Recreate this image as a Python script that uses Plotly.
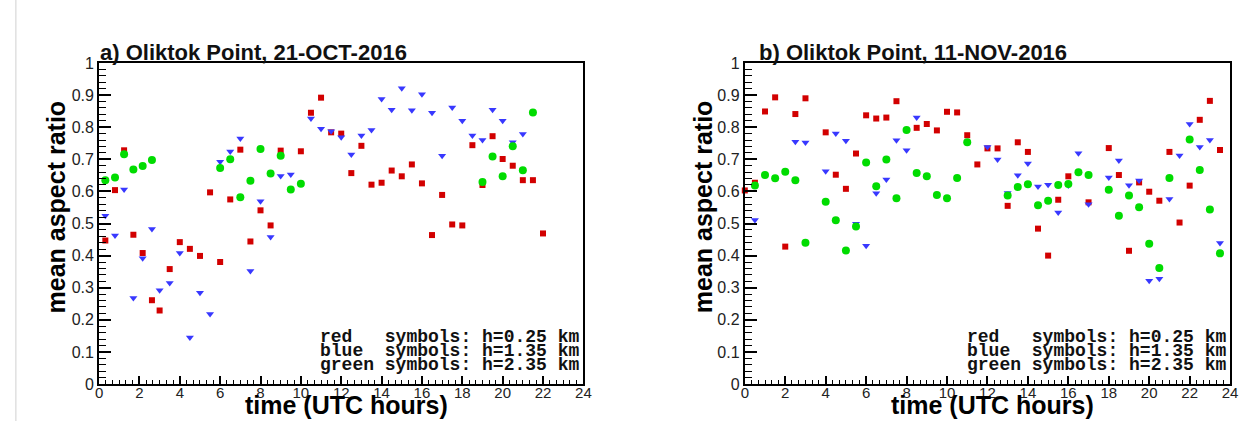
import plotly.graph_objects as go

# ---------------- data: panel a) 21-OCT-2016 ----------------
a_red_t = [0.31, 0.79, 1.24, 1.70, 2.16, 2.62, 3.0, 3.5, 4.0, 4.5, 5.0, 5.5, 6.0, 6.5, 7.0, 7.5,
           8.0, 8.5, 9.0, 10.0, 10.5, 11.0, 11.5, 12.0, 12.5, 13.0, 13.5, 14.0, 14.5, 15.0, 15.5,
           16.0, 16.5, 17.0, 17.5, 18.0, 18.5, 19.0, 19.5, 20.0, 20.5, 21.0, 21.5, 22.0]
a_red = [0.447, 0.604, 0.728, 0.465, 0.408, 0.261, 0.229, 0.358, 0.442, 0.421, 0.399, 0.597,
         0.380, 0.575, 0.730, 0.444, 0.541, 0.494, 0.727, 0.725, 0.845, 0.892, 0.784, 0.780,
         0.657, 0.742, 0.621, 0.627, 0.665, 0.647, 0.684, 0.625, 0.464, 0.589, 0.497, 0.494,
         0.744, 0.620, 0.772, 0.701, 0.680, 0.635, 0.635, 0.469]

a_blue_t = [0.31, 0.79, 1.24, 1.70, 2.16, 2.62, 3.0, 3.5, 4.0, 4.5, 5.0, 5.5, 6.0, 6.5, 7.0, 7.5,
            8.0, 8.5, 9.0, 9.5, 10.5, 11.0, 11.5, 12.0, 12.5, 13.0, 13.5, 14.0, 14.5, 15.0, 15.5,
            16.0, 16.5, 17.0, 17.5, 18.0, 18.5, 19.0, 19.5, 20.0, 20.5, 21.0]
a_blue = [0.524, 0.463, 0.606, 0.268, 0.392, 0.483, 0.292, 0.315, 0.408, 0.145, 0.284, 0.218,
          0.692, 0.724, 0.765, 0.352, 0.569, 0.458, 0.648, 0.653, 0.827, 0.795, 0.787, 0.769,
          0.715, 0.774, 0.791, 0.888, 0.854, 0.921, 0.853, 0.903, 0.845, 0.711, 0.861, 0.820,
          0.774, 0.760, 0.854, 0.820, 0.753, 0.779]

a_green_t = [0.31, 0.79, 1.24, 1.70, 2.16, 2.62, 6.0, 6.5, 7.0, 7.5, 8.0, 8.5, 9.0, 9.5, 10.0,
             19.0, 19.5, 20.0, 20.5, 21.0, 21.5]
a_green = [0.635, 0.643, 0.716, 0.668, 0.679, 0.698, 0.673, 0.700, 0.582, 0.633, 0.732, 0.656,
           0.711, 0.606, 0.624, 0.629, 0.709, 0.647, 0.741, 0.666, 0.846]

# ---------------- data: panel b) 11-NOV-2016 ----------------
b_red_t = [0.0, 0.5, 1.0, 1.5, 2.0, 2.5, 3.0, 4.0, 4.5, 5.0, 5.5, 6.0, 6.5, 7.0, 7.5, 8.5, 9.0,
           9.5, 10.0, 10.5, 11.0, 11.5, 12.0, 12.5, 13.0, 13.5, 14.0, 14.5, 15.0, 15.5, 16.0,
           17.0, 18.0, 18.5, 19.0, 19.5, 20.0, 20.5, 21.0, 21.5, 22.0, 22.5, 23.0, 23.5]
b_red = [0.603, 0.627, 0.849, 0.893, 0.428, 0.841, 0.890, 0.784, 0.652, 0.608, 0.718, 0.837,
         0.827, 0.830, 0.881, 0.798, 0.810, 0.790, 0.848, 0.846, 0.775, 0.684, 0.734, 0.734,
         0.555, 0.753, 0.723, 0.484, 0.400, 0.574, 0.647, 0.566, 0.735, 0.651, 0.415, 0.628,
         0.599, 0.571, 0.723, 0.503, 0.618, 0.823, 0.882, 0.729]

b_blue_t = [0.5, 2.5, 3.0, 4.0, 4.5, 5.0, 5.5, 6.0, 6.5, 7.0, 7.5, 8.0, 8.5, 12.0, 12.5, 13.0,
            13.5, 14.0, 14.5, 15.0, 15.5, 16.0, 16.5, 17.0, 18.0, 18.5, 19.0, 19.5, 20.0, 20.5,
            21.0, 21.5, 22.0, 22.5, 23.0, 23.5]
b_blue = [0.511, 0.755, 0.752, 0.663, 0.780, 0.758, 0.499, 0.431, 0.594, 0.637, 0.759, 0.728,
          0.830, 0.738, 0.699, 0.595, 0.650, 0.687, 0.615, 0.621, 0.534, 0.618, 0.719, 0.560,
          0.643, 0.696, 0.619, 0.634, 0.322, 0.328, 0.576, 0.712, 0.810, 0.738, 0.760, 0.439]

b_green_t = [0.5, 1.0, 1.5, 2.0, 2.5, 3.0, 4.0, 4.5, 5.0, 5.5, 6.0, 6.5, 7.0, 7.5, 8.0, 8.5, 9.0,
             9.5, 10.0, 10.5, 11.0, 13.0, 13.5, 14.0, 14.5, 15.0, 15.5, 16.0, 16.5, 17.0, 18.0,
             18.5, 19.0, 19.5, 20.0, 20.5, 21.0, 22.0, 22.5, 23.0, 23.5]
b_green = [0.618, 0.651, 0.641, 0.661, 0.635, 0.440, 0.568, 0.510, 0.416, 0.491, 0.690, 0.616,
           0.699, 0.579, 0.791, 0.657, 0.647, 0.589, 0.579, 0.642, 0.753, 0.587, 0.614, 0.622,
           0.557, 0.571, 0.620, 0.623, 0.660, 0.651, 0.605, 0.524, 0.587, 0.551, 0.437, 0.361,
           0.642, 0.762, 0.667, 0.544, 0.407]

titles = ["a) Oliktok Point, 21-OCT-2016", "b) Oliktok Point, 11-NOV-2016"]
x_title = "time (UTC hours)"
y_title = "mean aspect ratio"
legend_lines = ["red\u00a0\u00a0\u00a0symbols:\u00a0h=0.25\u00a0km",
                "blue\u00a0\u00a0symbols:\u00a0h=1.35\u00a0km",
                "green\u00a0symbols:\u00a0h=2.35\u00a0km"]

# ---------------- layout helpers ----------------
W, H = 1248, 421
MT, MB = 63, 37
PH = H - MT - MB


def fx(px):
    return px / W


def fy(py):
    return (H - MB - py) / PH


RED = "#d20000"
BLUE = "#3838ff"
GREEN = "#00dc00"
SANS = "Liberation Sans, Arial, sans-serif"
MONO = "Liberation Mono, Courier New, monospace"

fig = go.Figure()

panels = [
    ("x", "y", a_red_t, a_red, a_blue_t, a_blue, a_green_t, a_green),
    ("x2", "y2", b_red_t, b_red, b_blue_t, b_blue, b_green_t, b_green),
]
for xr, yr, rt, rv, bt, bv, gt, gv in panels:
    fig.add_trace(go.Scatter(x=rt, y=rv, xaxis=xr, yaxis=yr, mode="markers", cliponaxis=False,
                             marker=dict(symbol="square", size=6, color=RED, line=dict(width=0)),
                             showlegend=False))
    fig.add_trace(go.Scatter(x=bt, y=bv, xaxis=xr, yaxis=yr, mode="markers", cliponaxis=False,
                             marker=dict(symbol="triangle-down", size=7, color=BLUE, line=dict(width=0)),
                             showlegend=False))
    fig.add_trace(go.Scatter(x=gt, y=gv, xaxis=xr, yaxis=yr, mode="markers", cliponaxis=False,
                             marker=dict(symbol="circle", size=8, color=GREEN, line=dict(width=0)),
                             showlegend=False))

xcommon = dict(range=[0, 24], tick0=0, dtick=2, ticks="inside", ticklen=8, tickwidth=2,
               tickcolor="black", showline=True, linewidth=2, linecolor="black", mirror=True,
               showgrid=False, zeroline=False, ticklabelstandoff=-6,
               minor=dict(ticks="inside", ticklen=4, tickwidth=1, tickcolor="black",
                          tick0=0, dtick=1 / 3, showgrid=False),
               tickfont=dict(family=SANS, size=15, color="#222"))
ycommon = dict(range=[0, 1], tick0=0, dtick=0.1, ticks="inside", ticklen=12, tickwidth=2,
               tickcolor="black", showline=True, linewidth=2, linecolor="black", mirror=True,
               showgrid=False, zeroline=False,
               minor=dict(ticks="inside", ticklen=7, tickwidth=1, tickcolor="black",
                          tick0=0, dtick=0.02, showgrid=False),
               tickfont=dict(family=SANS, size=16, color="#222"))

plot_px = [(96, 585), (748, 1238)]

fig.update_layout(
    width=W, height=H,
    margin=dict(l=0, r=0, t=MT, b=MB, pad=0),
    paper_bgcolor="white", plot_bgcolor="white",
    xaxis=dict(domain=[fx(plot_px[0][0]), fx(plot_px[0][1])], anchor="y", **xcommon),
    yaxis=dict(domain=[0, 1], anchor="x", **ycommon),
    xaxis2=dict(domain=[fx(plot_px[1][0]), fx(plot_px[1][1])], anchor="y2", **xcommon),
    yaxis2=dict(domain=[0, 1], anchor="x2", **ycommon),
)

annotations = []
title_x = [95, 760]
ytitle_x = [53, 706]
for i, (x0, x1) in enumerate(plot_px):
    annotations.append(dict(text="<b>%s</b>" % titles[i], xref="paper", yref="paper",
                            x=fx(title_x[i]), y=fy(52), xanchor="left", yanchor="middle",
                            showarrow=False, font=dict(family=SANS, size=22, color="#111")))
    annotations.append(dict(text="<b>%s</b>" % x_title, xref="paper", yref="paper",
                            x=fx((x0 + x1) / 2 + 5), y=fy(H), xanchor="center", yanchor="bottom",
                            showarrow=False, font=dict(family=SANS, size=25, color="black")))
    annotations.append(dict(text="<b>%s</b>" % y_title, xref="paper", yref="paper",
                            x=fx(ytitle_x[i]), y=fy(207), xanchor="center", yanchor="middle",
                            textangle=-90, showarrow=False,
                            font=dict(family=SANS, size=25, color="black")))
    for j, line in enumerate(legend_lines):
        annotations.append(dict(text="<b>%s</b>" % line, xref="paper", yref="paper",
                                x=fx(x1 - 2), y=fy(337 + 14 * j), xanchor="right",
                                yanchor="middle", showarrow=False,
                                font=dict(family=MONO, size=18, color="#111")))

fig.update_layout(annotations=annotations)
fig.add_shape(type="line", xref="paper", yref="paper", x0=fx(12), x1=fx(12),
              y0=fy(H), y1=fy(0), line=dict(color="#d0d0d0", width=1))

fig.write_html("out.html")
